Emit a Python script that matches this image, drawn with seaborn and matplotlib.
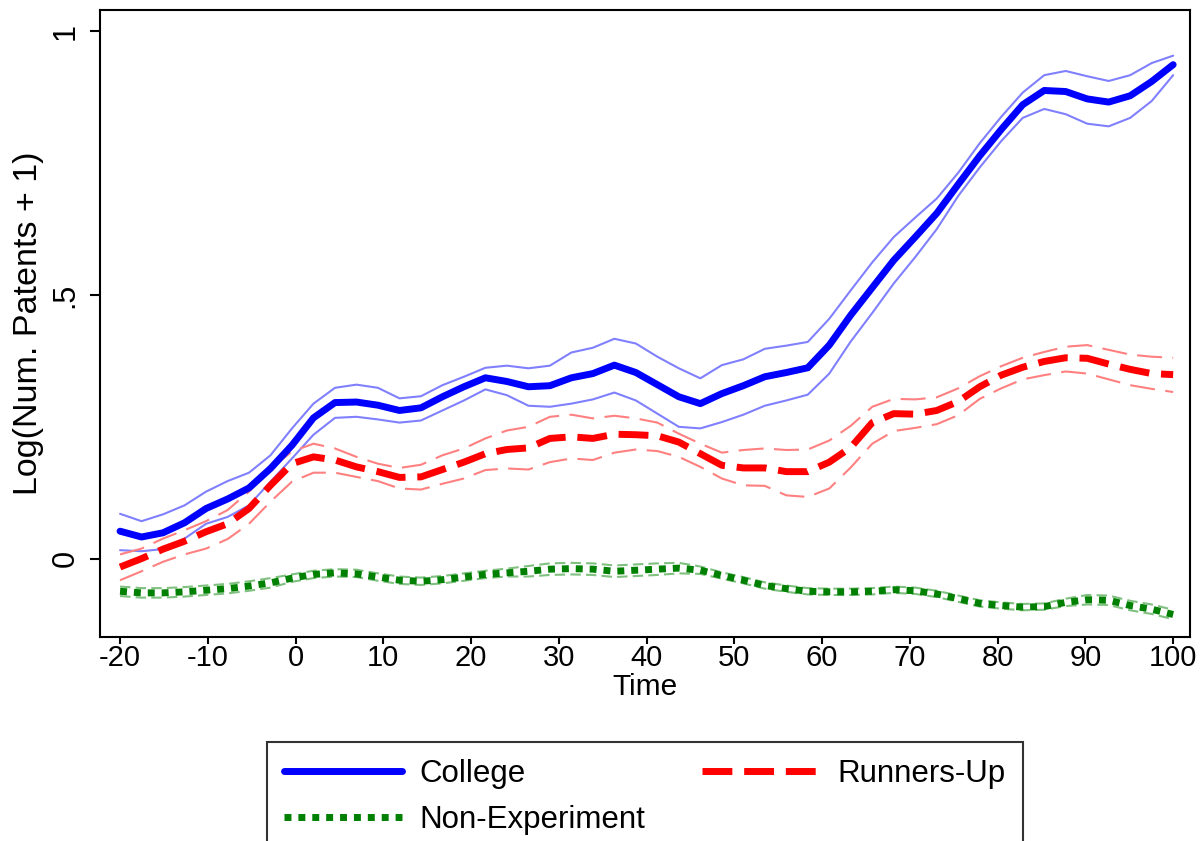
import numpy as np
import matplotlib
matplotlib.use("Agg")
import matplotlib.pyplot as plt
from matplotlib.ticker import FixedLocator, FixedFormatter
import seaborn as sns

# time grid (50 evaluation points from -20 to 100)
time = np.linspace(-20, 100, 50)

college = [0.052, 0.041, 0.049, 0.068, 0.095, 0.113, 0.134, 0.171, 0.215, 0.267,
           0.296, 0.297, 0.291, 0.281, 0.286, 0.307, 0.326, 0.343, 0.336, 0.326,
           0.328, 0.343, 0.351, 0.367, 0.353, 0.330, 0.307, 0.294, 0.313, 0.328,
           0.345, 0.353, 0.362, 0.405, 0.462, 0.514, 0.566, 0.610, 0.655, 0.710,
           0.764, 0.814, 0.861, 0.888, 0.886, 0.872, 0.866, 0.878, 0.905, 0.937]
college_hi = [0.085, 0.071, 0.084, 0.101, 0.127, 0.147, 0.163, 0.196, 0.247, 0.294,
              0.324, 0.330, 0.324, 0.304, 0.308, 0.329, 0.345, 0.362, 0.366, 0.361,
              0.366, 0.391, 0.400, 0.417, 0.408, 0.383, 0.361, 0.342, 0.367, 0.378,
              0.398, 0.404, 0.411, 0.455, 0.509, 0.562, 0.610, 0.647, 0.683, 0.732,
              0.788, 0.838, 0.884, 0.917, 0.925, 0.915, 0.906, 0.917, 0.940, 0.954]
college_lo = [0.016, 0.014, 0.018, 0.038, 0.066, 0.079, 0.101, 0.146, 0.190, 0.235,
              0.267, 0.269, 0.264, 0.258, 0.262, 0.281, 0.300, 0.321, 0.310, 0.290,
              0.288, 0.294, 0.302, 0.315, 0.300, 0.275, 0.250, 0.247, 0.259, 0.273,
              0.290, 0.300, 0.311, 0.351, 0.412, 0.466, 0.522, 0.572, 0.625, 0.688,
              0.742, 0.792, 0.836, 0.853, 0.843, 0.825, 0.820, 0.836, 0.868, 0.917]

runners = [-0.016, 0.000, 0.018, 0.033, 0.051, 0.066, 0.095, 0.139, 0.180, 0.193,
           0.187, 0.174, 0.165, 0.154, 0.155, 0.169, 0.183, 0.199, 0.207, 0.210,
           0.228, 0.231, 0.228, 0.236, 0.235, 0.233, 0.221, 0.199, 0.177, 0.172,
           0.172, 0.165, 0.165, 0.183, 0.211, 0.258, 0.275, 0.274, 0.281, 0.298,
           0.326, 0.348, 0.363, 0.374, 0.381, 0.380, 0.369, 0.359, 0.351, 0.349]
runners_hi = [0.008, 0.019, 0.038, 0.054, 0.071, 0.092, 0.127, 0.171, 0.203, 0.218,
              0.209, 0.193, 0.180, 0.172, 0.178, 0.196, 0.209, 0.228, 0.243, 0.250,
              0.269, 0.273, 0.266, 0.271, 0.266, 0.258, 0.237, 0.218, 0.201, 0.206,
              0.209, 0.206, 0.207, 0.224, 0.252, 0.288, 0.303, 0.302, 0.306, 0.323,
              0.346, 0.365, 0.381, 0.392, 0.402, 0.405, 0.396, 0.387, 0.383, 0.381]
runners_lo = [-0.041, -0.024, -0.006, 0.008, 0.019, 0.037, 0.066, 0.108, 0.146, 0.163,
              0.163, 0.155, 0.147, 0.133, 0.131, 0.142, 0.152, 0.168, 0.171, 0.169,
              0.183, 0.190, 0.187, 0.201, 0.207, 0.204, 0.193, 0.174, 0.152, 0.139,
              0.138, 0.120, 0.117, 0.133, 0.173, 0.218, 0.242, 0.248, 0.255, 0.272,
              0.303, 0.323, 0.340, 0.348, 0.355, 0.351, 0.340, 0.329, 0.322, 0.316]

nonexp = [-0.062, -0.065, -0.065, -0.063, -0.060, -0.057, -0.052, -0.046, -0.037, -0.030,
          -0.027, -0.029, -0.035, -0.041, -0.043, -0.040, -0.035, -0.030, -0.027, -0.024,
          -0.020, -0.019, -0.020, -0.024, -0.022, -0.020, -0.018, -0.022, -0.032, -0.041,
          -0.051, -0.057, -0.062, -0.063, -0.063, -0.062, -0.059, -0.061, -0.067, -0.076,
          -0.085, -0.089, -0.092, -0.091, -0.083, -0.078, -0.079, -0.089, -0.096, -0.106]
nonexp_hi = [-0.053, -0.056, -0.056, -0.054, -0.051, -0.048, -0.043, -0.037, -0.030, -0.023,
             -0.020, -0.021, -0.028, -0.034, -0.036, -0.033, -0.028, -0.023, -0.019, -0.014,
             -0.009, -0.008, -0.009, -0.013, -0.011, -0.009, -0.008, -0.015, -0.026, -0.035,
             -0.045, -0.051, -0.056, -0.057, -0.057, -0.056, -0.053, -0.055, -0.061, -0.070,
             -0.079, -0.083, -0.086, -0.085, -0.076, -0.069, -0.070, -0.080, -0.087, -0.097]
nonexp_lo = [-0.071, -0.074, -0.074, -0.072, -0.069, -0.066, -0.061, -0.055, -0.044, -0.037,
             -0.034, -0.035, -0.042, -0.048, -0.050, -0.047, -0.042, -0.037, -0.034, -0.034,
             -0.031, -0.030, -0.031, -0.035, -0.033, -0.031, -0.028, -0.029, -0.038, -0.047,
             -0.057, -0.063, -0.068, -0.069, -0.069, -0.068, -0.065, -0.067, -0.073, -0.082,
             -0.091, -0.095, -0.098, -0.097, -0.090, -0.087, -0.088, -0.098, -0.105, -0.115]

xticks = [-20, -10, 0, 10, 20, 30, 40, 50, 60, 70, 80, 90, 100]
yticks = [0, 0.5, 1]
ytick_labels = ["0", ".5", "1"]

sns.set_style("ticks")
plt.rcParams["font.family"] = ["Liberation Sans", "DejaVu Sans"]
plt.rcParams["axes.unicode_minus"] = False
plt.rcParams["text.color"] = "black"
plt.rcParams["axes.labelcolor"] = "black"

fig = plt.figure(figsize=(12.01, 8.41), dpi=100)
ax = fig.add_axes([0.0833, 0.243, 0.9077, 0.7447])

thick = 5.0
thin = 1.5
fs = 22.5

# confidence bands
sns.lineplot(x=time, y=college_hi, ax=ax, color="#8080ff", linewidth=thin, errorbar=None)
sns.lineplot(x=time, y=college_lo, ax=ax, color="#8080ff", linewidth=thin, errorbar=None)
sns.lineplot(x=time, y=runners_hi, ax=ax, color="#ff8080", linewidth=thin, errorbar=None,
             linestyle=(0, (12, 5)))
sns.lineplot(x=time, y=runners_lo, ax=ax, color="#ff8080", linewidth=thin, errorbar=None,
             linestyle=(0, (12, 5)))
sns.lineplot(x=time, y=nonexp_hi, ax=ax, color="#80c080", linewidth=thin, errorbar=None,
             linestyle=(0, (5, 2.5)))
sns.lineplot(x=time, y=nonexp_lo, ax=ax, color="#80c080", linewidth=thin, errorbar=None,
             linestyle=(0, (5, 2.5)))

# point estimates
l1 = sns.lineplot(x=time, y=college, ax=ax, color="#0000ff", linewidth=thick,
                  errorbar=None).lines[-1]
l2 = sns.lineplot(x=time, y=runners, ax=ax, color="#ff0000", linewidth=thick,
                  errorbar=None, linestyle=(0, (4.3, 1.7))).lines[-1]
l3 = sns.lineplot(x=time, y=nonexp, ax=ax, color="#008000", linewidth=thick,
                  errorbar=None, linestyle=(0, (1, 1))).lines[-1]
for ln in (l1, l2, l3):
    ln.set_dash_capstyle("butt")
    ln.set_solid_capstyle("round")

ax.set_xlim(-22.28, 101.94)
ax.set_ylim(-0.148, 1.040)
ax.xaxis.set_major_locator(FixedLocator(xticks))
ax.yaxis.set_major_locator(FixedLocator(yticks))
ax.yaxis.set_major_formatter(FixedFormatter(ytick_labels))
ax.tick_params(axis="both", direction="out", width=1.5, colors="black")
ax.tick_params(axis="x", length=5, pad=0.5, labelsize=21)
ax.tick_params(axis="y", length=7, pad=7, labelsize=22)
for lab in ax.get_yticklabels():
    lab.set_rotation(90)
    lab.set_va("center")
for sp in ax.spines.values():
    sp.set_visible(True)
    sp.set_linewidth(1.5)
    sp.set_color("black")

ax.set_xlabel("Time", fontsize=21.5, labelpad=0.5)
ax.set_ylabel("Log(Num. Patents + 1)", fontsize=24.5, labelpad=5)

leg = ax.legend([l1, l3, l2], ["College", "Non-Experiment", "Runners-Up"],
                ncol=2, loc="upper center", bbox_to_anchor=(0.537, 0.1177),
                bbox_transform=fig.transFigure, fontsize=fs, frameon=True,
                fancybox=False, edgecolor="black", handlelength=3.75,
                handletextpad=0.58, columnspacing=1.8, borderpad=0.55,
                labelspacing=0.5, borderaxespad=0, labelcolor="black")
leg.get_frame().set_linewidth(1.5)

fig.savefig("out.png", dpi=100)
